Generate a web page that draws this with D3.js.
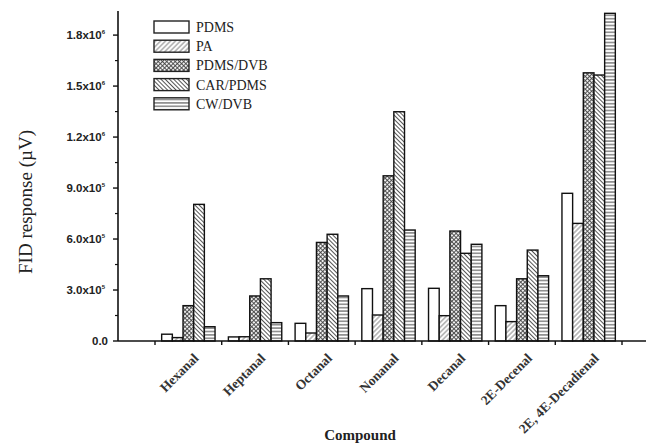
<!DOCTYPE html>
<html>
<head>
<meta charset="utf-8">
<script src="https://cdn.jsdelivr.net/npm/d3@7"></script>
<style>
  body { margin: 0; background: #fff; }
</style>
</head>
<body>
<svg id="chart" width="646" height="445"></svg>
<script>
// compounds on the x axis
const compounds = ["Hexanal", "Heptanal", "Octanal", "Nonanal", "Decanal", "2E-Decenal", "2E, 4E-Decadienal"];
// SPME fibres (series)
const fibers = ["PDMS", "PA", "PDMS/DVB", "CAR/PDMS", "CW/DVB"];

// FID response in µV
const pdms    = [40000, 24000, 104000, 308000, 310000, 208000, 869000];
const pa      = [20000, 25000, 47000, 153000, 149000, 114000, 692000];
const pdmsDvb = [208000, 265000, 580000, 972000, 647000, 366000, 1578000];
const carPdms = [804000, 366000, 628000, 1349000, 516000, 535000, 1565000];
const cwDvb   = [84000, 108000, 265000, 653000, 569000, 384000, 1928000];

// y tick labels as mantissa x 10^exp
const yTicks    = [0, 300000, 600000, 900000, 1200000, 1500000, 1800000];
const yMantissa = ["0.0", "3.0", "6.0", "9.0", "1.2", "1.5", "1.8"];
const yExp      = [null, "5", "5", "5", "6", "6", "6"];

const series = [pdms, pa, pdmsDvb, carPdms, cwDvb];

const svg = d3.select("#chart");
const SERIF = "'Liberation Serif', 'Times New Roman', serif";
const SANS = "'Liberation Sans', Arial, sans-serif";

/**
 * fill patterns, one per fibre
 */
const defs = svg.append("defs");

function linePattern(id, size, angle, color, width) {
  const p = defs.append("pattern")
    .attr("id", id)
    .attr("patternUnits", "userSpaceOnUse")
    .attr("width", size)
    .attr("height", size)
    .attr("patternTransform", "rotate(" + angle + ")");
  p.append("rect").attr("width", size).attr("height", size).attr("fill", "#fff");
  p.append("line")
    .attr("x1", 0).attr("y1", size / 2)
    .attr("x2", size).attr("y2", size / 2)
    .attr("stroke", color)
    .attr("stroke-width", width);
  return p;
}

linePattern("pa", 3.5, -45, "#777", 0.9);
linePattern("car", 3, 45, "#555", 1);
linePattern("cw", 3.4, 0, "#444", 1);

const cross = defs.append("pattern")
  .attr("id", "dvb")
  .attr("patternUnits", "userSpaceOnUse")
  .attr("width", 3)
  .attr("height", 3)
  .attr("patternTransform", "rotate(45)");
cross.append("rect").attr("width", 3).attr("height", 3).attr("fill", "#f2f2f2");
cross.append("path")
  .attr("d", "M0,1.5H3M1.5,0V3")
  .attr("stroke", "#444")
  .attr("stroke-width", 0.9);

const fills = ["#fff", "url(#pa)", "url(#dvb)", "url(#car)", "url(#cw)"];

/**
 * scales
 */
const x0 = d3.scaleBand()
  .domain(compounds)
  .range([155, 622])
  .paddingInner(0.2)
  .paddingOuter(0.1);

const x1 = d3.scaleBand()
  .domain(fibers)
  .range([0, x0.bandwidth()]);

const y = d3.scaleLinear()
  .domain([0, 1930000])
  .range([341, 13]);

const AXIS_X = 118;

/**
 * bars
 */
const groups = svg.append("g")
  .selectAll("g")
  .data(compounds)
  .join("g")
  .attr("transform", d => "translate(" + x0(d) + ",0)");

groups.selectAll("rect")
  .data((d, i) => fibers.map((f, j) => ({ fiber: f, j: j, value: series[j][i] })))
  .join("rect")
  .attr("x", d => x1(d.fiber))
  .attr("y", d => y(d.value))
  .attr("width", x1.bandwidth())
  .attr("height", d => y(0) - y(d.value))
  .attr("fill", d => fills[d.j])
  .attr("stroke", "#111")
  .attr("stroke-width", 1.4);

/**
 * y axis
 */
const yAxis = svg.append("g");

yAxis.append("line")
  .attr("x1", AXIS_X).attr("x2", AXIS_X)
  .attr("y1", y(0)).attr("y2", 11)
  .attr("stroke", "#111").attr("stroke-width", 1.6);

const minor = d3.range(150000, 1930000, 300000);
yAxis.selectAll(".minor")
  .data(minor)
  .join("line")
  .attr("class", "minor")
  .attr("x1", AXIS_X - 3).attr("x2", AXIS_X)
  .attr("y1", d => y(d)).attr("y2", d => y(d))
  .attr("stroke", "#111").attr("stroke-width", 1.2);

yAxis.selectAll(".major")
  .data(yTicks)
  .join("line")
  .attr("class", "major")
  .attr("x1", AXIS_X - 5).attr("x2", AXIS_X)
  .attr("y1", d => y(d)).attr("y2", d => y(d))
  .attr("stroke", "#111").attr("stroke-width", 1.4);

const yLabels = yAxis.selectAll(".ylab")
  .data(yTicks)
  .join("text")
  .attr("class", "ylab")
  .attr("x", (d, i) => yExp[i] ? AXIS_X - 13 : AXIS_X - 10)
  .attr("y", d => y(d) + 4)
  .attr("text-anchor", "end")
  .style("font-family", SANS)
  .style("font-weight", "bold")
  .style("font-size", "11.5px")
  .attr("fill", "#222");

yLabels.append("tspan").text((d, i) => yExp[i] ? yMantissa[i] + "x10" : yMantissa[i]);
yLabels.filter((d, i) => yExp[i])
  .append("tspan")
  .attr("dy", -5)
  .style("font-size", "6px")
  .text(d => yExp[yTicks.indexOf(d)]);

svg.append("text")
  .attr("transform", "translate(32," + 202 + ") rotate(-90)")
  .attr("text-anchor", "middle")
  .style("font-family", SERIF)
  .style("font-size", "19px")
  .attr("fill", "#222")
  .text("FID response (\u00b5V)");

/**
 * x axis
 */
const xAxis = svg.append("g");

xAxis.append("line")
  .attr("x1", AXIS_X).attr("x2", 646)
  .attr("y1", y(0)).attr("y2", y(0))
  .attr("stroke", "#111").attr("stroke-width", 1.6);

const step = x0.step();
const bounds = d3.range(compounds.length + 1).map(i => x0.range()[0] + i * step);
xAxis.selectAll(".xtick")
  .data(bounds)
  .join("line")
  .attr("class", "xtick")
  .attr("x1", d => d).attr("x2", d => d)
  .attr("y1", y(0)).attr("y2", y(0) + 4)
  .attr("stroke", "#111").attr("stroke-width", 1.4);

xAxis.selectAll(".xlab")
  .data(compounds)
  .join("text")
  .attr("class", "xlab")
  .attr("transform", d => "translate(" + (x0(d) + x0.bandwidth() / 2 + 11) + ",359) rotate(-45)")
  .attr("text-anchor", "end")
  .style("font-family", SERIF)
  .style("font-weight", "bold")
  .style("font-size", "13.5px")
  .attr("fill", "#333")
  .text(d => d);

svg.append("text")
  .attr("x", 360)
  .attr("y", 440)
  .attr("text-anchor", "middle")
  .style("font-family", SERIF)
  .style("font-weight", "bold")
  .style("font-size", "15px")
  .attr("fill", "#222")
  .text("Compound");

/**
 * legend
 */
const legend = svg.append("g")
  .selectAll("g")
  .data(fibers)
  .join("g")
  .attr("transform", (d, i) => "translate(154," + (21 + i * 19.2) + ")");

legend.append("rect")
  .attr("width", 35)
  .attr("height", 12)
  .attr("fill", (d, i) => fills[i])
  .attr("stroke", "#222")
  .attr("stroke-width", 1.4);

legend.append("text")
  .attr("x", 42)
  .attr("y", 11)
  .style("font-family", SERIF)
  .style("font-size", "14px")
  .attr("fill", "#222")
  .text(d => d);
</script>
</body>
</html>
